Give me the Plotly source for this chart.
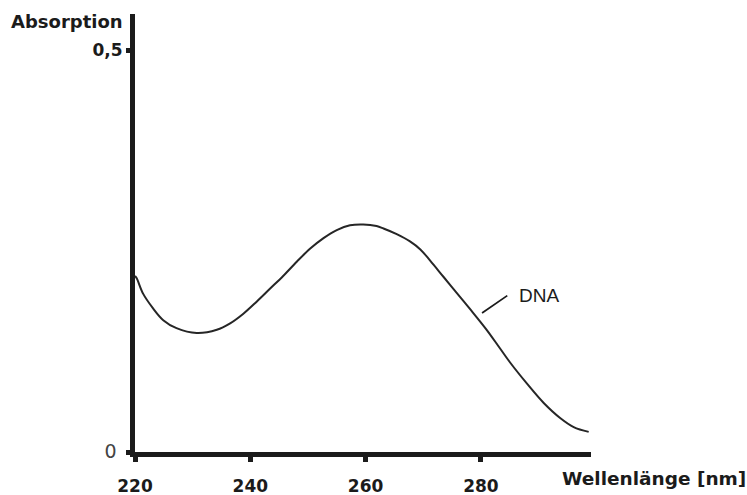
import plotly.graph_objects as go

# Data (UV absorption spectrum of DNA)
wavelength_nm = [220.0, 220.3, 221.4, 223.1, 224.9, 227.2, 230.7, 234.2, 236.5, 238.8,
                 241.1, 243.4, 245.7, 248.1, 250.4, 252.7, 255.0, 257.3, 259.6, 261.9,
                 263.1, 265.4, 267.7, 269.5, 271.2, 273.5, 275.8, 278.1, 281.0, 283.3,
                 285.1, 288.0, 290.9, 293.8, 296.1, 298.7]
absorption = [0.219, 0.216, 0.197, 0.179, 0.164, 0.154, 0.148, 0.152, 0.160, 0.172,
              0.187, 0.203, 0.219, 0.237, 0.253, 0.266, 0.276, 0.282, 0.283, 0.281,
              0.278, 0.271, 0.262, 0.252, 0.238, 0.218, 0.198, 0.178, 0.152, 0.129,
              0.111, 0.085, 0.061, 0.042, 0.031, 0.025]

x_tick_vals = [220, 240, 260, 280]
x_tick_text = ["<b>220</b>", "<b>240</b>", "<b>260</b>", "<b>280</b>"]
y_tick_vals = [0, 0.5]
y_tick_text = ['<span style="color:#444444;font-size:19px">0&nbsp;</span>', "<b>0,5</b>"]

series_label = "DNA"
label_point = (279.2, 0.168)

FONT = "DejaVu Sans"
INK = "#1b1b1b"

fig = go.Figure()
fig.add_trace(go.Scatter(
    x=wavelength_nm, y=absorption, mode="lines",
    line=dict(color="#262626", width=2, shape="spline", smoothing=1.0),
    showlegend=False, hoverinfo="skip",
))

fig.update_layout(
    width=747, height=495,
    margin=dict(l=135, r=156, t=14, b=43),
    paper_bgcolor="white", plot_bgcolor="white",
    font=dict(family=FONT, color=INK, size=17),
    xaxis=dict(
        range=[220, 299.1], showgrid=False, zeroline=False, automargin=False,
        showline=True, linecolor=INK, linewidth=5,
        ticks="outside", ticklen=5, tickwidth=5, tickcolor=INK,
        tickvals=x_tick_vals, ticktext=x_tick_text,
        tickfont=dict(family=FONT, size=17, color=INK),
        ticklabelstandoff=10,
    ),
    yaxis=dict(
        range=[0, 0.5448], showgrid=False, zeroline=False, automargin=False,
        showline=True, linecolor=INK, linewidth=5,
        ticks="outside", ticklen=4, tickwidth=5, tickcolor=INK,
        tickvals=y_tick_vals, ticktext=y_tick_text,
        tickfont=dict(family=FONT, size=17, color=INK),
    ),
    annotations=[
        dict(text="<b>Absorption</b>", xref="paper", yref="paper",
             x=-0.022, y=0.982, xanchor="right", yanchor="middle",
             showarrow=False, font=dict(family=FONT, size=18, color=INK)),
        dict(text="<b>Wellenlänge [nm]</b>", xref="paper", yref="paper",
             x=0.933, y=-0.06, xanchor="left", yanchor="middle",
             showarrow=False, font=dict(family=FONT, size=18.5, color=INK)),
        # leader line
        dict(text=" ", x=label_point[0], y=label_point[1], xref="x", yref="y",
             showarrow=True, arrowhead=0, arrowwidth=1.8, arrowcolor=INK,
             ax=32, ay=-22, standoff=7, borderpad=0,
             font=dict(family="Liberation Sans", size=2, color=INK)),
        # series label
        dict(text=series_label, x=label_point[0], y=label_point[1], xref="x", yref="y",
             showarrow=False, xshift=63, yshift=21,
             font=dict(family="Liberation Sans", size=19, color=INK)),
    ],
)

fig.write_html("out.html", config={"displayModeBar": False},
               post_script="document.body.style.margin='0';document.body.style.overflow='hidden';")
